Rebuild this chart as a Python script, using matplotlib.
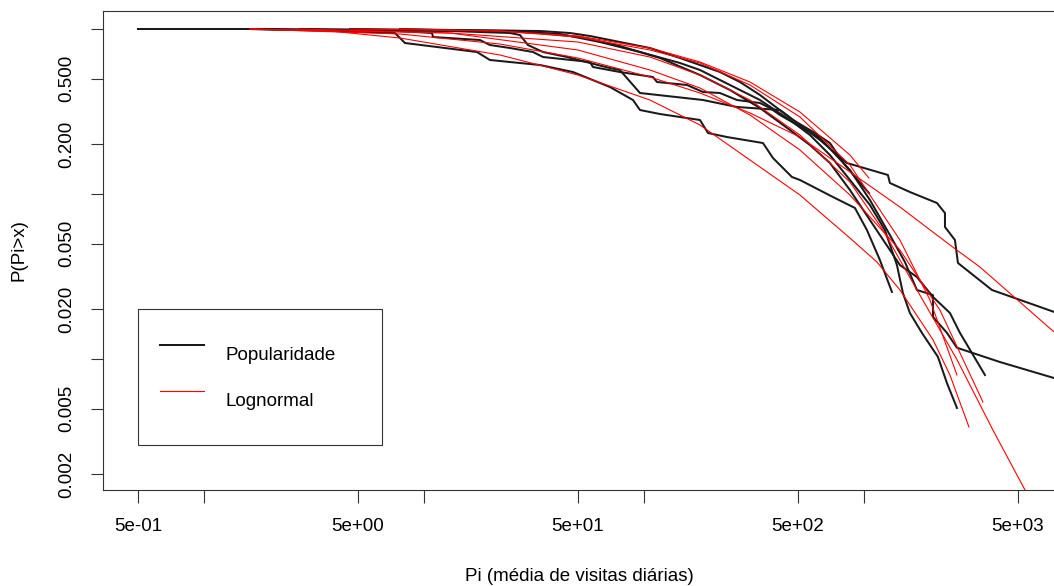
import matplotlib
matplotlib.use("Agg")
import matplotlib.pyplot as plt

plt.rcParams["font.family"] = ["Liberation Sans", "DejaVu Sans"]

# empirical CCDF of daily visits (black)
pop_a_x = [7.76, 13.10, 33.59, 45.98, 56.69, 77.54, 106.2, 145.4, 179.3, 221.0, 272.5, 336.0, 474.4, 597.4, 698.8, 817.7, 1051]
pop_a_y = [1.0, 0.986, 0.9725, 0.9457, 0.9070, 0.8341, 0.7671, 0.6672, 0.6051, 0.5488, 0.4774, 0.3981, 0.2809, 0.2343, 0.2037, 0.1499, 0.1014]

pop_b_x = [1.614, 4.14, 7.36, 8.18, 17.37, 19.90, 33.59, 47.45, 69.84, 88.94, 95.71, 117.9, 179.3, 195.0, 237.8, 346.7, 384.9, 469.5, 510.6, 721.1, 907.9, 1029, 1179, 1337]
pop_b_y = [1.0, 0.9725, 0.9457, 0.8225, 0.7254, 0.6489, 0.6051, 0.5488, 0.4452, 0.3713, 0.3229, 0.3054, 0.2809, 0.2343, 0.2215, 0.2037, 0.1653, 0.1268, 0.1216, 0.0959, 0.0823, 0.0605, 0.0398, 0.0255]

pop_c_x = [2.72, 22.10, 41.41, 62.9, 95.71, 145.4, 179.3, 245.4, 336.0, 459.8, 566.9, 698.8, 861.6, 1062, 1242, 1409, 1500, 1614, 1830, 2164, 2378, 2641]
pop_c_y = [1.0, 0.9725, 0.9326, 0.8341, 0.7254, 0.6223, 0.5644, 0.4578, 0.3713, 0.2809, 0.2278, 0.1723, 0.1216, 0.0858, 0.0605, 0.0371, 0.0251, 0.0190, 0.0144, 0.0103, 0.00715, 0.00505]

pop_d_x = [4.60, 27.25, 51.06, 77.54, 117.9, 179.3, 245.4, 336.0, 459.8, 566.9, 698.8, 861.6, 1179, 1454, 1737, 2054, 2454, 2725, 3540]
pop_d_y = [1.0, 0.9725, 0.8944, 0.7888, 0.6672, 0.5263, 0.4269, 0.3321, 0.2443, 0.1981, 0.1541, 0.1057, 0.0564, 0.0371, 0.0314, 0.0238, 0.0190, 0.0144, 0.00800]

pop_e_x = [0.5, 1.614, 4.60, 13.10, 24.54, 27.25, 29.62, 34.67, 44.56, 56.69, 69.84, 77.54, 95.71, 185.0, 264.0, 414.1, 510.6, 629.5, 835.0, 1282, 1309, 1614, 2142, 2329, 2330, 2586, 2668, 3809, 7288, 8616]
pop_e_y = [1.0, 1.0, 0.986, 0.9725, 0.9457, 0.9197, 0.7999, 0.7254, 0.6766, 0.6223, 0.5803, 0.5644, 0.4094, 0.3713, 0.3368, 0.3229, 0.2620, 0.2125, 0.1541, 0.1304, 0.1166, 0.1028, 0.0882, 0.0767, 0.0631, 0.0526, 0.0382, 0.0262, 0.0193, 0.0182]

pop_f_x = [1.792, 7.76, 10.85, 10.97, 17.93, 19.90, 24.54, 31.22, 34.67, 56.69, 58.50, 77.54, 109.6, 114.3, 156.5, 185.0, 221.0, 264.0, 336.0, 373.0, 414.1, 629.5, 861.6, 1062, 1309, 1532, 1737, 2054, 2055, 2378, 2641, 4141, 7288, 8616]
pop_f_y = [1.0, 0.9725, 0.9457, 0.8944, 0.8577, 0.7999, 0.7671, 0.7254, 0.6766, 0.6310, 0.5885, 0.5488, 0.5118, 0.4774, 0.4578, 0.4152, 0.4094, 0.3713, 0.3560, 0.3321, 0.3012, 0.2185, 0.1398, 0.0920, 0.0564, 0.0387, 0.0262, 0.0244, 0.0180, 0.0144, 0.0117, 0.00959, 0.00767, 0.00715]

# fitted lognormal curves (red)
fit_a_x = [7.76, 22.10, 50, 106.2, 179.3, 302.6, 510.6, 861.6, 1051]
fit_a_y = [1.0, 0.9725, 0.9070, 0.7671, 0.6310, 0.4774, 0.3140, 0.1723, 0.1250]

fit_b_x = [1.614, 3.73, 7.76, 22.10, 50, 106.2, 179.3, 302.6, 510.6, 861.6, 1143, 1454, 2054, 2454, 2994]
fit_b_y = [1.0, 0.9725, 0.8820, 0.6957, 0.5263, 0.3713, 0.2620, 0.1607, 0.0986, 0.0541, 0.0387, 0.0262, 0.0131, 0.00800, 0.00387]

fit_c_x = [4.60, 22.10, 50, 106.2, 179.3, 302.6, 510.6, 861.6, 1454, 1990, 2641]
fit_c_y = [1.0, 0.9725, 0.8944, 0.7460, 0.6223, 0.4578, 0.2929, 0.1499, 0.0526, 0.0228, 0.00800]

fit_d_x = [2.72, 13.10, 50, 106.2, 179.3, 302.6, 510.6, 861.6, 1454, 2210, 3466]
fit_d_y = [1.0, 0.9457, 0.7460, 0.5644, 0.4390, 0.3012, 0.1848, 0.0986, 0.0458, 0.0198, 0.00549]

fit_e_x = [1.614, 7.76, 22.10, 50, 106.2, 179.3, 302.6, 510.6, 721.1, 1454, 2454, 3359, 7288, 9079]
fit_e_y = [1.0, 0.9326, 0.8111, 0.6672, 0.5118, 0.4094, 0.3097, 0.2215, 0.1607, 0.0834, 0.0491, 0.0361, 0.0146, 0.0110]

fit_f_x = [1.614, 13.10, 50, 106.2, 179.3, 302.6, 510.6, 861.6, 1217, 1792, 2641, 3848, 5380, 5973]
fit_f_y = [1.0, 0.9457, 0.8341, 0.6766, 0.5263, 0.3713, 0.2278, 0.1182, 0.0605, 0.0244, 0.00992, 0.00371, 0.00161, 0.00118]

popularity = [(pop_a_x, pop_a_y), (pop_b_x, pop_b_y), (pop_c_x, pop_c_y),
              (pop_d_x, pop_d_y), (pop_e_x, pop_e_y), (pop_f_x, pop_f_y)]
lognormal = [(fit_a_x, fit_a_y), (fit_b_x, fit_b_y), (fit_c_x, fit_c_y),
             (fit_d_x, fit_d_y), (fit_e_x, fit_e_y), (fit_f_x, fit_f_y)]

x_ticks = [0.5, 1, 5, 10, 50, 100, 500, 1000, 5000]
x_labels = ["5e-01", "", "5e+00", "", "5e+01", "", "5e+02", "", "5e+03"]
y_ticks = [0.002, 0.005, 0.01, 0.02, 0.05, 0.1, 0.2, 0.5, 1.0]
y_labels = ["0.002", "0.005", "", "0.020", "0.050", "", "0.200", "0.500", ""]

# legend box anchored like R's legend(0.5, 0.02, ...)
legend_x = (0.5, 6.43)
legend_y = (0.00297, 0.02)

fs = 13.5
fig = plt.figure(figsize=(10.54, 5.86), dpi=100)
ax = fig.add_axes([0.0977, 0.1638, 0.9032, 0.8174])

for i, (x, y) in enumerate(popularity):
    ax.plot(x, y, color="#1a1a1a", lw=1.45, label="Popularidade" if i == 0 else None)
for i, (x, y) in enumerate(lognormal):
    ax.plot(x, y, color="red", lw=0.8, label="Lognormal" if i == 0 else None)

ax.set_xscale("log")
ax.set_yscale("log")
ax.set_xlim(0.3467, 7365)
ax.set_ylim(0.001607, 1.2854)

ax.set_xticks(x_ticks)
ax.set_xticklabels(x_labels)
ax.set_yticks(y_ticks)
ax.set_yticklabels(y_labels)
ax.minorticks_off()
ax.tick_params(axis="both", length=9, width=0.8, color="#333333", labelsize=fs, pad=11)
plt.setp(ax.get_yticklabels(), rotation=90, va="center", ha="right")

for s in ax.spines.values():
    s.set_color("#333333")
    s.set_linewidth(0.8)

ax.set_xlabel("Pi (média de visitas diárias)", fontsize=fs, labelpad=24)
ax.set_ylabel("P(Pi>x)", fontsize=fs, labelpad=22)

leg = ax.legend(loc="upper left",
                bbox_to_anchor=(legend_x[0], legend_y[0],
                                legend_x[1] - legend_x[0], legend_y[1] - legend_y[0]),
                bbox_transform=ax.transData, mode="expand",
                fontsize=fs, frameon=True, fancybox=False, framealpha=1, edgecolor="#333333",
                borderaxespad=0, borderpad=1.17, handlelength=2.35, handletextpad=1.17,
                handleheight=3.4, labelspacing=0)
leg.get_frame().set_linewidth(0.8)

fig.savefig("out.png", dpi=100)
